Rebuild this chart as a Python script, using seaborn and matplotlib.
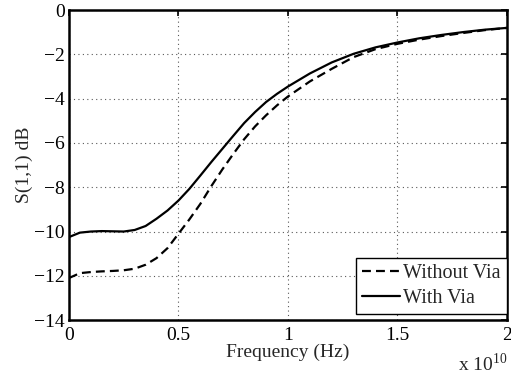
import seaborn as sns
import matplotlib.pyplot as plt
import pandas as pd

# frequency in units of 1e10 Hz
freq = [0, 0.05, 0.1, 0.15, 0.2, 0.25, 0.3, 0.35, 0.4, 0.45, 0.5, 0.55, 0.6,
        0.65, 0.7, 0.75, 0.8, 0.85, 0.9, 0.95, 1.0, 1.1, 1.2, 1.3, 1.4, 1.5,
        1.6, 1.7, 1.8, 1.9, 2.0]
s11_without_via = [-12.1, -11.88, -11.83, -11.8, -11.78, -11.75, -11.68, -11.5,
                   -11.2, -10.75, -10.1, -9.45, -8.75, -7.95, -7.2, -6.5, -5.83,
                   -5.25, -4.75, -4.3, -3.9, -3.22, -2.65, -2.12, -1.76, -1.52,
                   -1.33, -1.17, -1.03, -0.9, -0.8]
s11_with_via = [-10.25, -10.05, -10.0, -9.98, -9.99, -10.0, -9.93, -9.75, -9.42,
                -9.05, -8.6, -8.07, -7.47, -6.86, -6.27, -5.68, -5.1, -4.6,
                -4.15, -3.78, -3.45, -2.86, -2.36, -1.97, -1.68, -1.46, -1.27,
                -1.12, -0.99, -0.88, -0.8]

df = pd.DataFrame({"freq": freq, "without": s11_without_via, "with": s11_with_via})

sns.set_style("white")
plt.rcParams['font.family'] = ['Liberation Serif', 'DejaVu Serif']
plt.rcParams['mathtext.fontset'] = 'custom'
plt.rcParams['mathtext.rm'] = 'Liberation Serif'

fig, ax = plt.subplots(figsize=(5.11, 3.77), dpi=100)
fig.subplots_adjust(left=0.135, right=0.992, top=0.973, bottom=0.151)

sns.lineplot(data=df, x="freq", y="without", color="black", linewidth=1.6,
             linestyle=(0, (4, 2.3)), label="Without Via", ax=ax)
sns.lineplot(data=df, x="freq", y="with", color="black", linewidth=1.6,
             label="With Via", ax=ax)

ax.set_xlim(0, 2)
ax.set_ylim(-14, 0)
ax.set_xticks([0, 0.5, 1, 1.5, 2])
ax.set_xticklabels(["0", "0.5", "1", "1.5", "2"])
ax.set_yticks(range(-14, 1, 2))
ax.set_yticklabels(["\u221214", "\u221212", "\u221210", "\u22128", "\u22126",
                    "\u22124", "\u22122", "0"])
ax.grid(True, linestyle=(0, (1, 3)), color="0.35", linewidth=0.8)
ax.tick_params(direction="in", length=4, width=1.2, top=True, right=True,
               labelsize=14, colors="black")
ax.tick_params(axis="x", pad=5)
ax.tick_params(axis="y", pad=3)
for sp in ax.spines.values():
    sp.set_linewidth(1.8)
    sp.set_color("black")

ax.set_xlabel("Frequency (Hz)", fontsize=14, labelpad=0)
ax.set_ylabel("S(1,1) dB", fontsize=14, labelpad=1)
ax.text(1.0, -0.165, r"x 10$^{10}$", transform=ax.transAxes, fontsize=14,
        ha="right", va="baseline")

leg = ax.legend(loc="lower right", bbox_to_anchor=(1.0, 0.02), fontsize=14.5,
                frameon=True, fancybox=False, edgecolor="black", framealpha=1,
                borderaxespad=0, handlelength=1.9, handletextpad=0.15,
                borderpad=0.3, labelspacing=0.3)
leg.get_frame().set_linewidth(1.0)

fig.savefig("out.png", dpi=100)
